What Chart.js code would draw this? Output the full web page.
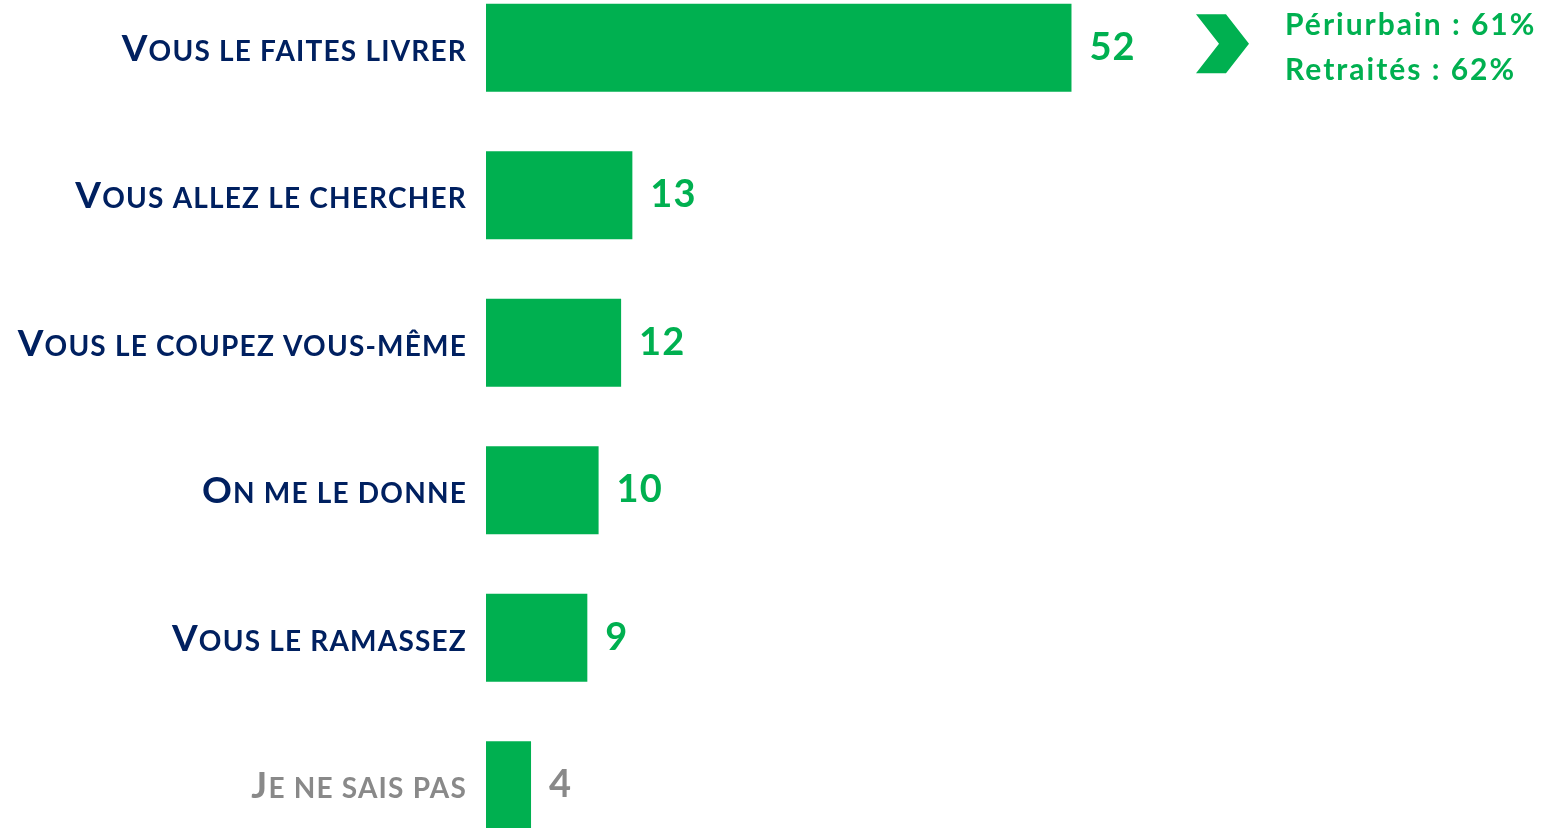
<!DOCTYPE html>
<html>
<head>
<meta charset="utf-8">
<script src="https://cdn.jsdelivr.net/npm/chart.js@4"></script>
<style>
  html, body { margin: 0; padding: 0; background: #ffffff; overflow: hidden; width: 1550px; height: 828px; }
  #wrap { position: absolute; left: 0; top: -26px; width: 1550px; height: 885px; }
</style>
</head>
<body>
<div id="wrap"><canvas id="c"></canvas></div>
<script>
const categories = [
  "Vous le faites livrer",
  "Vous allez le chercher",
  "Vous le coupez vous-même",
  "On me le donne",
  "Vous le ramassez",
  "Je ne sais pas"
];
const values = [52, 13, 12, 10, 9, 4];
const labelColors = ["#002060", "#002060", "#002060", "#002060", "#002060", "#898989"];
const valueColors = ["#00B050", "#00B050", "#00B050", "#00B050", "#00B050", "#898989"];
const calloutLines = ["Périurbain : 61%", "Retraités : 62%"];

const GREEN = "#00B050";
const FONT = "Lato, 'Open Sans', sans-serif";

function drawSmallCaps(ctx, text, xRight, y, big, small, color, spacing) {
  const first = text.charAt(0).toUpperCase();
  const rest = text.slice(1).toUpperCase();
  ctx.save();
  ctx.letterSpacing = spacing + "px";
  ctx.fillStyle = color;
  ctx.textBaseline = "alphabetic";
  ctx.textAlign = "left";
  ctx.font = "700 " + small + "px " + FONT;
  const wRest = ctx.measureText(rest).width;
  ctx.font = "700 " + big + "px " + FONT;
  const wFirst = ctx.measureText(first).width;
  const x0 = xRight - wRest - wFirst;
  ctx.fillText(first, x0, y);
  ctx.font = "700 " + small + "px " + FONT;
  ctx.fillText(rest, x0 + wFirst, y);
  ctx.restore();
}

const annotPlugin = {
  id: "annot",
  afterDatasetsDraw(chart) {
    const ctx = chart.ctx;
    const yScale = chart.scales.y;
    const meta = chart.getDatasetMeta(0);
    // category labels
    categories.forEach((lab, i) => {
      const yc = yScale.getPixelForTick(i);
      drawSmallCaps(ctx, lab, chart.chartArea.left - 19, yc + 13, 37, 28, labelColors[i], 1.2);
    });
    // value labels
    ctx.save();
    ctx.letterSpacing = "1px";
    ctx.font = "700 38px " + FONT;
    ctx.textAlign = "left";
    ctx.textBaseline = "alphabetic";
    meta.data.forEach((bar, i) => {
      ctx.fillStyle = valueColors[i];
      ctx.fillText(String(values[i]), bar.x + 18, bar.y + 12);
    });
    ctx.restore();
    // chevron callout next to first bar
    const yc0 = meta.data[0].y;
    const cy = yc0 - 4;
    const cx = 1196;
    ctx.save();
    ctx.fillStyle = GREEN;
    ctx.beginPath();
    ctx.moveTo(cx, cy - 29.5);
    ctx.lineTo(cx + 30, cy - 29.5);
    ctx.lineTo(cx + 53, cy);
    ctx.lineTo(cx + 30, cy + 29.5);
    ctx.lineTo(cx, cy + 29.5);
    ctx.lineTo(cx + 23, cy);
    ctx.closePath();
    ctx.fill();
    ctx.letterSpacing = "2px";
    ctx.font = "700 30px " + FONT;
    ctx.textAlign = "left";
    ctx.textBaseline = "alphabetic";
    ctx.fillText(calloutLines[0], 1285, yc0 - 13);
    ctx.fillText(calloutLines[1], 1285, yc0 + 32);
    ctx.restore();
  }
};

new Chart(document.getElementById("c"), {
  type: "bar",
  data: {
    labels: categories,
    datasets: [{
      data: values,
      backgroundColor: GREEN,
      borderWidth: 0,
      categoryPercentage: 1,
      barPercentage: 0.597
    }]
  },
  options: {
    indexAxis: "y",
    responsive: true,
    maintainAspectRatio: false,
    animation: false,
    layout: { padding: { left: 486, right: 0, top: 0, bottom: 0 } },
    plugins: { legend: { display: false }, tooltip: { enabled: false } },
    scales: {
      x: { min: 0, max: 94.5, display: false },
      y: { display: false }
    }
  },
  plugins: [annotPlugin]
});
</script>
</body>
</html>
